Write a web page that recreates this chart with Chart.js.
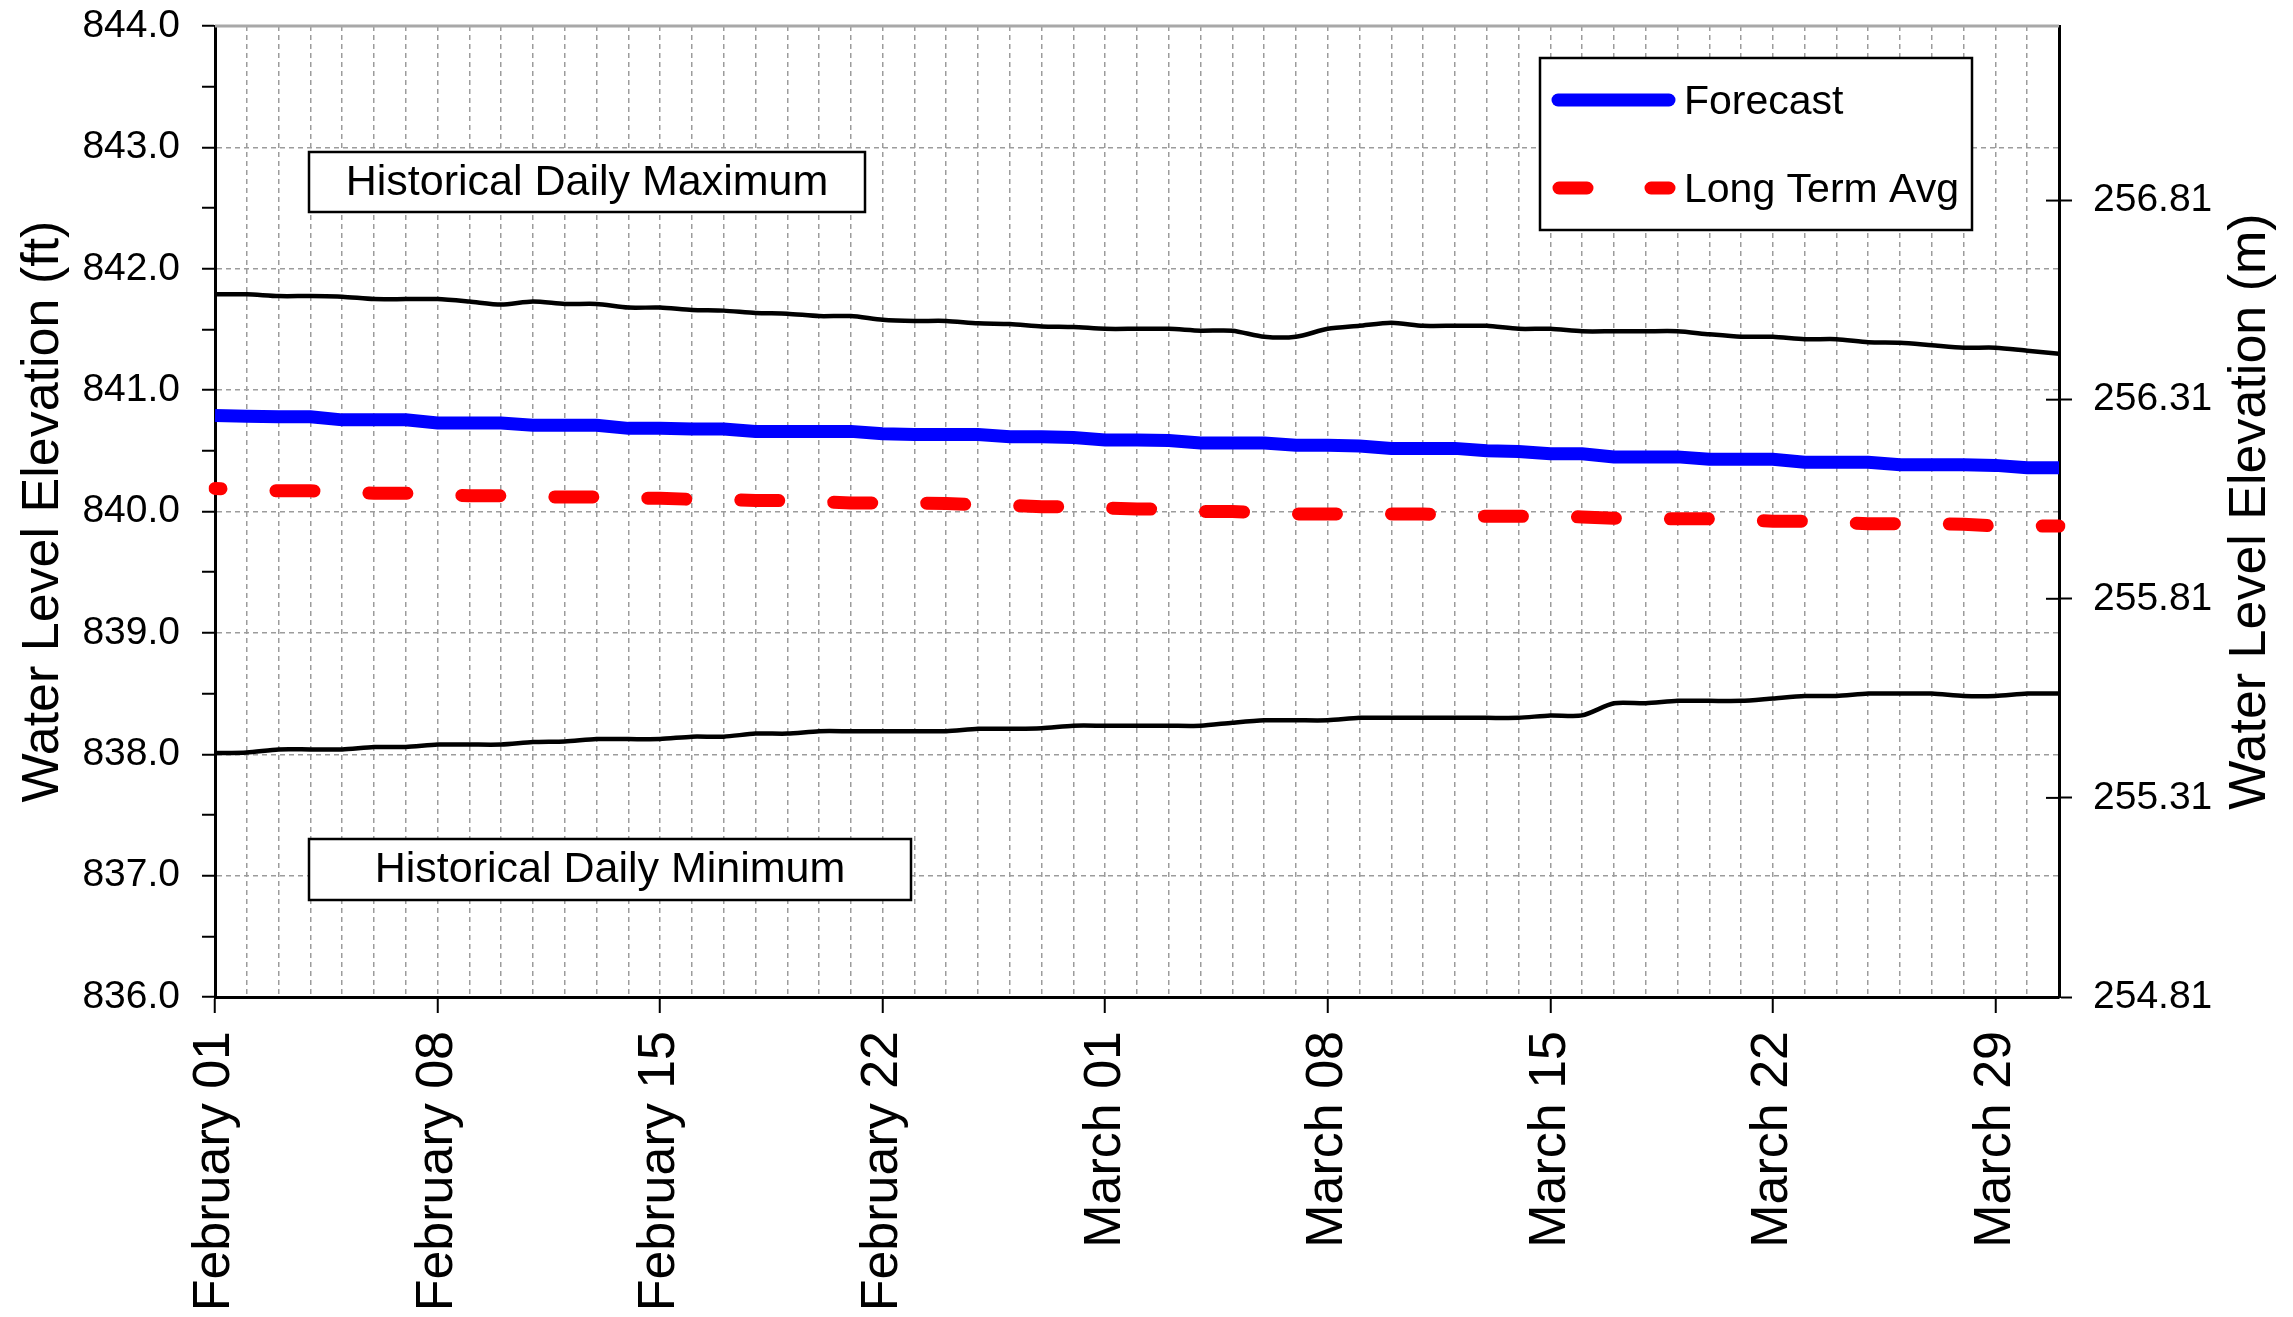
<!DOCTYPE html>
<html>
<head>
<meta charset="utf-8">
<script src="https://cdn.jsdelivr.net/npm/chart.js@4.4.1/dist/chart.umd.min.js"></script>
<style>
  html, body { margin: 0; padding: 0; background: #fff; }
  canvas { display: block; }
</style>
</head>
<body>
<canvas id="levelChart" width="2293" height="1317"></canvas>
<script>
// Daily water levels, Feb 01 - Mar 31 (ft)

const weekLabels = ['February 01', 'February 08', 'February 15', 'February 22',
  'March 01', 'March 08', 'March 15', 'March 22', 'March 29'];

const maxLevel = [
  841.79, 841.79, 841.775, 841.775, 841.77, 841.75, 841.75, 841.75, 841.73, 841.705,
  841.73, 841.71, 841.71, 841.68, 841.68, 841.66, 841.655, 841.635, 841.63, 841.61,
  841.61, 841.58, 841.57, 841.57, 841.55, 841.545, 841.525, 841.52, 841.505, 841.505,
  841.505, 841.49, 841.49, 841.44, 841.44, 841.505, 841.53, 841.555, 841.53, 841.53,
  841.53, 841.505, 841.505, 841.485, 841.485, 841.485, 841.485, 841.46, 841.44, 841.44,
  841.42, 841.42, 841.395, 841.39, 841.37, 841.35, 841.35, 841.325, 841.30
];

const forecast = [
  840.79, 840.785, 840.78, 840.78, 840.755, 840.755, 840.755, 840.73, 840.73, 840.73,
  840.71, 840.71, 840.71, 840.685, 840.685, 840.68, 840.68, 840.66, 840.66, 840.66,
  840.66, 840.64, 840.635, 840.635, 840.635, 840.615, 840.615, 840.61, 840.59, 840.59,
  840.585, 840.565, 840.565, 840.565, 840.545, 840.545, 840.54, 840.52, 840.52, 840.52,
  840.50, 840.495, 840.475, 840.475, 840.45, 840.45, 840.45, 840.43, 840.43, 840.43,
  840.405, 840.405, 840.405, 840.385, 840.385, 840.385, 840.38, 840.36, 840.36
];

const longTermAvg = [
  840.19, 840.18, 840.17, 840.17, 840.16, 840.15, 840.15, 840.14, 840.13, 840.13,
  840.12, 840.12, 840.12, 840.11, 840.11, 840.10, 840.10, 840.09, 840.09, 840.08,
  840.07, 840.07, 840.07, 840.065, 840.055, 840.05, 840.04, 840.04, 840.03, 840.02,
  840.02, 840.00, 840.00, 839.99, 839.98, 839.98, 839.98, 839.98, 839.98, 839.97,
  839.96, 839.96, 839.96, 839.955, 839.945, 839.94, 839.94, 839.94, 839.93, 839.92,
  839.92, 839.91, 839.90, 839.90, 839.90, 839.895, 839.88, 839.88, 839.88
];

const minLevel = [
  838.01, 838.015, 838.04, 838.04, 838.04, 838.06, 838.06, 838.08, 838.08, 838.08,
  838.10, 838.105, 838.125, 838.125, 838.125, 838.145, 838.145, 838.17, 838.17, 838.19,
  838.19, 838.19, 838.19, 838.19, 838.21, 838.21, 838.215, 838.235, 838.235, 838.235,
  838.235, 838.235, 838.26, 838.28, 838.28, 838.28, 838.30, 838.30, 838.30, 838.30,
  838.30, 838.30, 838.32, 838.32, 838.42, 838.42, 838.44, 838.44, 838.44, 838.46,
  838.48, 838.48, 838.50, 838.50, 838.50, 838.48, 838.48, 838.50, 838.50
];

const dayIndex = forecast.map((_, i) => i);
const rightTicks = [254.81, 255.31, 255.81, 256.31, 256.81];

const FONT = "'Liberation Sans', Arial, sans-serif";
const GRID = '#9c9c9c';
const NONE = 'rgba(0,0,0,0)';

function $(id) {
  return document.getElementById(id);
}

function isWhole(v) {
  return Math.abs(v - Math.round(v)) < 1e-6;
}

// keep the plot area where the layout padding puts it
function noOverflow(s) {
  s.paddingTop = 0;
  s.paddingBottom = 0;
}

function textBox(ctx, x, y, w, h, text) {
  ctx.fillStyle = '#fff';
  ctx.fillRect(x, y, w, h);
  ctx.strokeStyle = '#000';
  ctx.lineWidth = 2.5;
  ctx.strokeRect(x, y, w, h);
  ctx.fillStyle = '#000';
  ctx.font = '43px ' + FONT;
  ctx.textAlign = 'center';
  ctx.textBaseline = 'middle';
  ctx.fillText(text, x + w / 2, y + h / 2 + 1);
}

// frame, right ticks, boxes, legend and axis titles
const extras = {
  id: 'extras',
  afterDraw(chart) {
    const ctx = chart.ctx;
    const a = chart.chartArea;
    const y2 = chart.scales.y2;
    ctx.save();

    ctx.strokeStyle = '#a8a8a8';
    ctx.lineWidth = 3;
    ctx.beginPath();
    ctx.moveTo(a.left, a.top);
    ctx.lineTo(a.right, a.top);
    ctx.stroke();

    ctx.strokeStyle = '#000';
    ctx.lineWidth = 2;
    y2.ticks.forEach(t => {
      const py = y2.getPixelForValue(t.value);
      ctx.beginPath();
      ctx.moveTo(a.right - 13, py);
      ctx.lineTo(a.right, py);
      ctx.stroke();
    });

    textBox(ctx, a.left + 94, a.top + 126, 556, 60, 'Historical Daily Maximum');
    textBox(ctx, a.left + 94, a.top + 813, 602, 61, 'Historical Daily Minimum');

    // legend
    const lx = 1540, ly = 58;
    ctx.fillStyle = '#fff';
    ctx.fillRect(lx, ly, 432, 172);
    ctx.strokeStyle = '#000';
    ctx.lineWidth = 2.5;
    ctx.strokeRect(lx, ly, 432, 172);

    ctx.lineCap = 'round';
    ctx.lineWidth = 13;
    ctx.strokeStyle = '#0000ff';
    ctx.beginPath();
    ctx.moveTo(lx + 18, ly + 42);
    ctx.lineTo(lx + 129, ly + 42);
    ctx.stroke();

    ctx.strokeStyle = '#ff0000';
    ctx.setLineDash([28, 64]);
    ctx.beginPath();
    ctx.moveTo(lx + 19, ly + 130);
    ctx.lineTo(lx + 129, ly + 130);
    ctx.stroke();
    ctx.setLineDash([]);

    ctx.fillStyle = '#000';
    ctx.font = '41px ' + FONT;
    ctx.textAlign = 'left';
    ctx.textBaseline = 'middle';
    ctx.fillText('Forecast', lx + 144, ly + 45);
    ctx.fillText('Long Term Avg', lx + 144, ly + 133);

    // axis titles, both reading bottom to top
    const cy = (a.top + a.bottom) / 2;
    ctx.font = '52px ' + FONT;
    ctx.textAlign = 'center';
    [[44, 'Water Level Elevation (ft)'], [2251, 'Water Level Elevation (m)']].forEach(([tx, label]) => {
      ctx.save();
      ctx.translate(tx, cy);
      ctx.rotate(-Math.PI / 2);
      ctx.fillText(label, 0, 0);
      ctx.restore();
    });

    ctx.restore();
  }
};

const chartData = {
  labels: dayIndex,
  datasets: [
    {
      label: 'Historical Daily Maximum',
      data: maxLevel,
      borderColor: '#000',
      borderWidth: 4.5,
      tension: 0.25
    },
    {
      label: 'Forecast',
      data: forecast,
      borderColor: '#0000ff',
      borderWidth: 13,
      tension: 0
    },
    {
      label: 'Long Term Avg',
      data: longTermAvg,
      borderColor: '#ff0000',
      borderWidth: 13,
      borderDash: [38, 55],
      borderDashOffset: 32,
      borderCapStyle: 'round',
      tension: 0
    },
    {
      label: 'Historical Daily Minimum',
      data: minLevel,
      borderColor: '#000',
      borderWidth: 4.5,
      tension: 0.25
    }
  ]
};

const chartOptions = {
  responsive: false,
  animation: false,
  layout: { padding: { top: 26, left: 0, right: 0, bottom: 0 } },
  elements: { point: { radius: 0 } },
  plugins: {
    legend: { display: false },
    tooltip: { enabled: false }
  },
  scales: {
    x: {
      type: 'category',
      offset: false,
      afterFit: s => { s.height = 320; },
      grid: {
        offset: false,
        color: GRID,
        lineWidth: 1.5,
        tickLength: 16,
        tickWidth: 2,
        tickColor: c => (c.index % 7 === 0 ? '#000' : NONE)
      },
      border: { color: '#000', width: 3, dash: [5, 4] },
      ticks: {
        autoSkip: false,
        minRotation: 90,
        maxRotation: 90,
        padding: 18,
        color: '#000',
        font: { family: FONT, size: 52 },
        callback: (v, i) => (i % 7 === 0 ? weekLabels[i / 7] : '')
      }
    },
    y: {
      position: 'left',
      min: 836,
      max: 844,
      afterFit: s => { s.width = 215; noOverflow(s); },
      grid: {
        color: c => (c.tick && isWhole(c.tick.value) ? GRID : NONE),
        lineWidth: 1.5,
        tickLength: 13,
        tickWidth: 2,
        tickColor: '#000'
      },
      border: { color: '#000', width: 3, dash: [5, 4] },
      ticks: {
        stepSize: 0.5,
        padding: 22,
        color: '#000',
        font: { family: FONT, size: 39 },
        callback: v => (isWhole(v) ? Number(v).toFixed(1) : '')
      }
    },
    y2: {
      position: 'right',
      min: 254.81,
      max: 254.81 + 8 * 0.3048,
      afterFit: s => { s.width = 234; noOverflow(s); },
      afterBuildTicks: s => { s.ticks = rightTicks.map(v => ({ value: v })); },
      grid: {
        drawOnChartArea: false,
        tickLength: 13,
        tickWidth: 2,
        tickColor: '#000'
      },
      border: { color: '#000', width: 3 },
      ticks: {
        padding: 21,
        color: '#000',
        font: { family: FONT, size: 39 },
        callback: v => Number(v).toFixed(2)
      }
    }
  }
};

const levelChart = new Chart($('levelChart').getContext('2d'), {
  type: 'line',
  data: chartData,
  options: chartOptions,
  plugins: [extras]
});
</script>
</body>
</html>
